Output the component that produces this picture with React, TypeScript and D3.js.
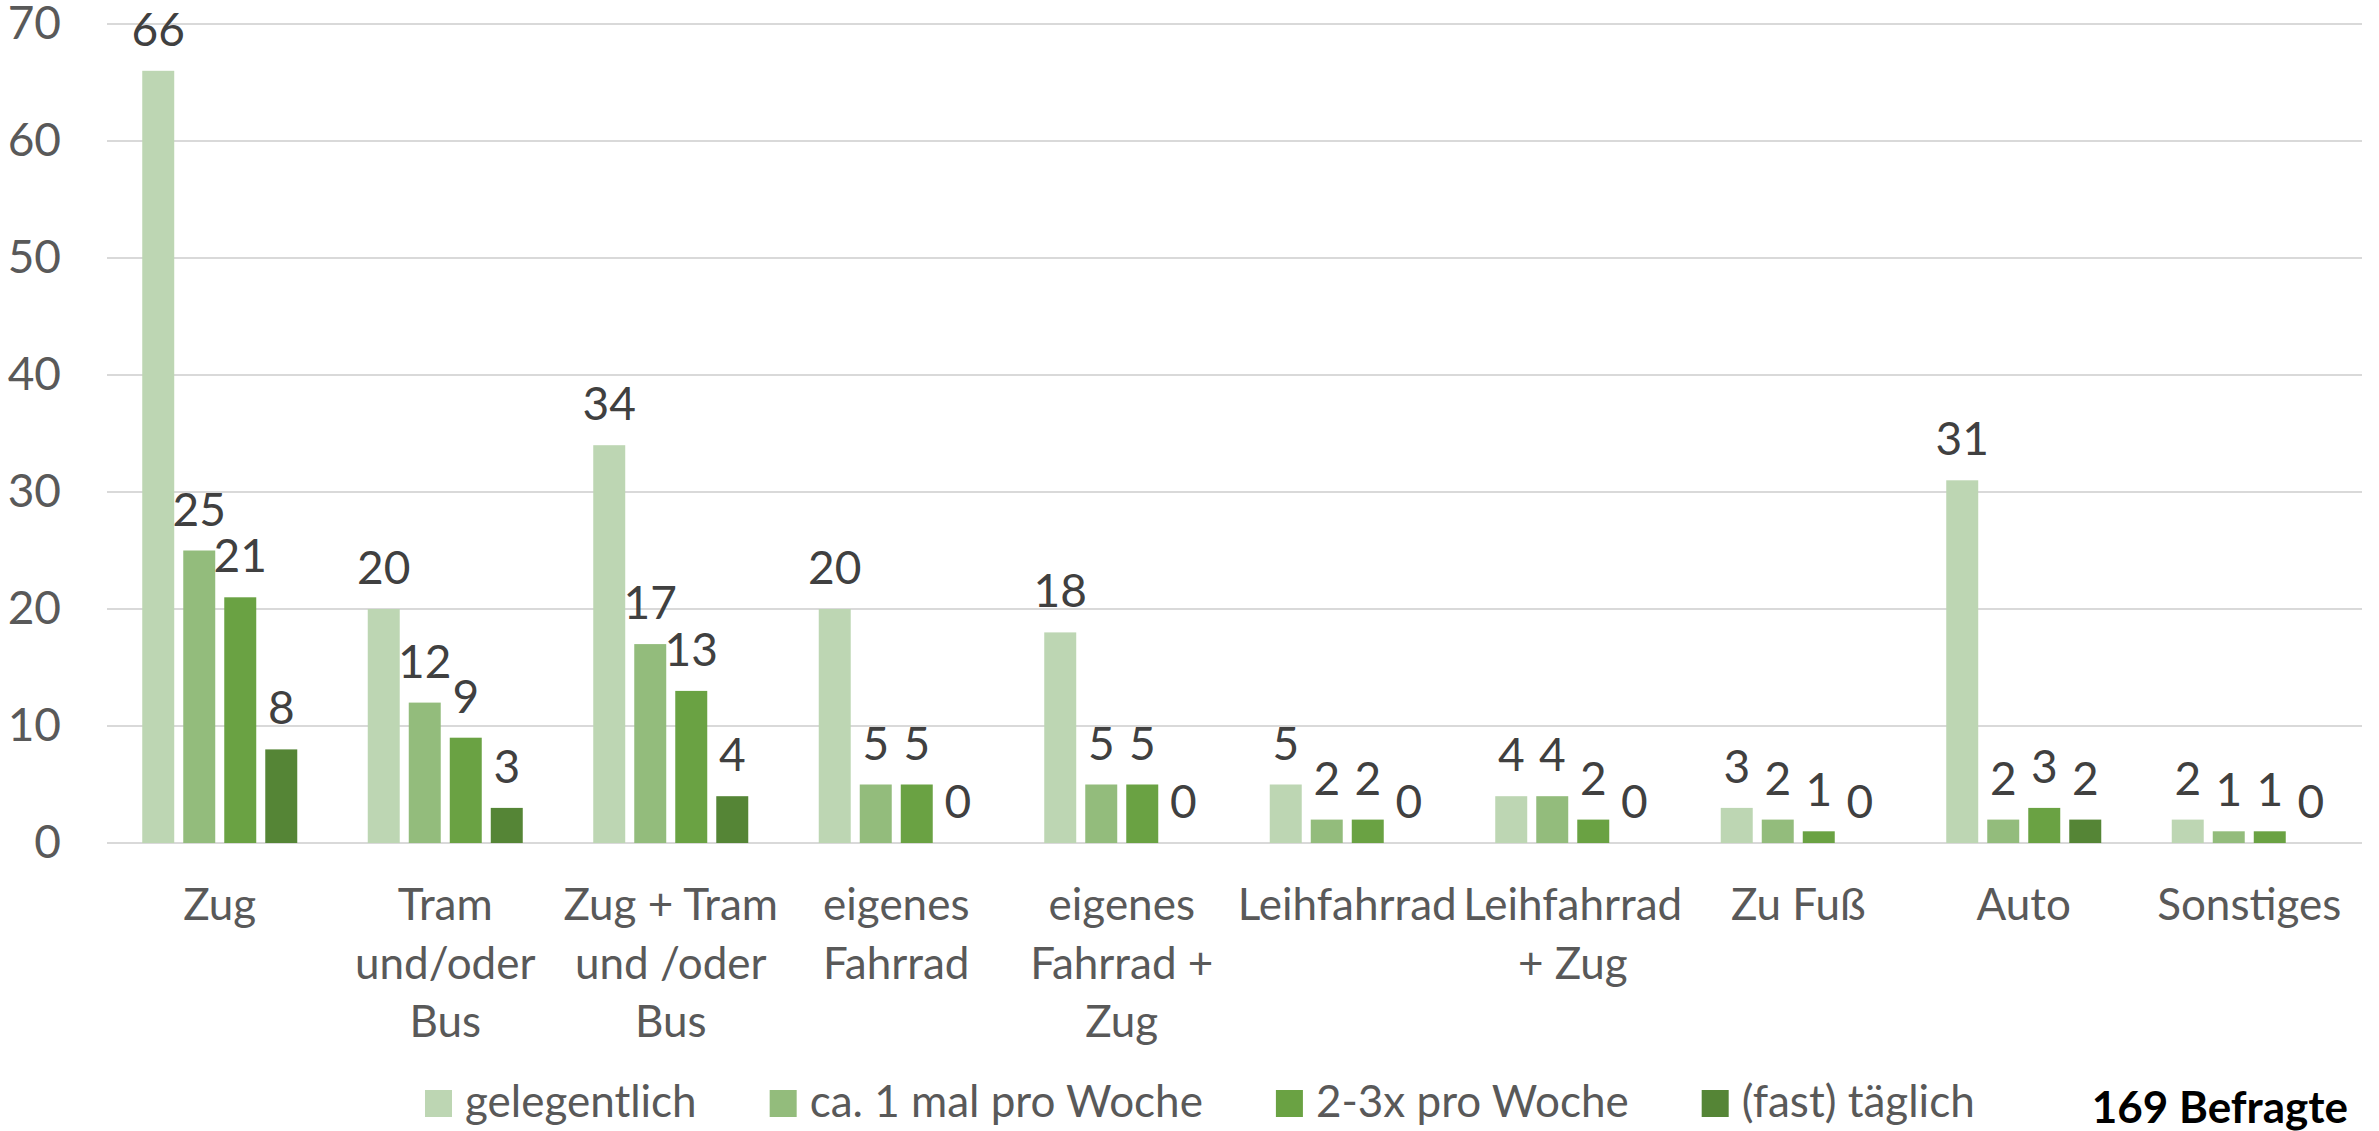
import React, { useEffect, useRef } from "react";
import * as d3 from "d3";

const categories: string[] = [
  "Zug",
  "Tram\nund/oder\nBus",
  "Zug + Tram\nund /oder\nBus",
  "eigenes\nFahrrad",
  "eigenes\nFahrrad +\nZug",
  "Leihfahrrad",
  "Leihfahrrad\n+ Zug",
  "Zu Fuß",
  "Auto",
  "Sonstiges",
];

const seriesNames: string[] = ["gelegentlich", "ca. 1 mal pro Woche", "2-3x pro Woche", "(fast) täglich"];

const gelegentlich: number[] = [66, 20, 34, 20, 18, 5, 4, 3, 31, 2];
const einmalProWoche: number[] = [25, 12, 17, 5, 5, 2, 4, 2, 2, 1];
const zweiDreiProWoche: number[] = [21, 9, 13, 5, 5, 2, 2, 1, 3, 1];
const fastTaeglich: number[] = [8, 3, 4, 0, 0, 0, 0, 0, 2, 0];

const yTicks: number[] = [0, 10, 20, 30, 40, 50, 60, 70];
const footnote = "169 Befragte";

const colors: string[] = ["#BDD6B3", "#93BC7C", "#6AA243", "#558536"];

const W = 2379;
const H = 1131;
const FONT = "Lato, 'Open Sans', sans-serif";
const FS = 44;

export default function App() {
  const ref = useRef<SVGSVGElement | null>(null);

  useEffect(() => {
    document.body.style.margin = "0";
    const svg = d3.select(ref.current);
    svg.selectAll("*").remove();

    const seriesValues = [gelegentlich, einmalProWoche, zweiDreiProWoche, fastTaeglich];
    const left = 107, right = 2362, top = 24, bottom = 843;

    const x0 = d3.scaleBand<string>().domain(categories).range([left, right]).paddingInner(0.3126).paddingOuter(0.1563);
    const x1 = d3.scaleBand<string>().domain(seriesNames).range([0, x0.bandwidth()]).paddingInner(0.22).paddingOuter(0);
    const y = d3.scaleLinear().domain([0, 70]).range([bottom, top]);

    // gridlines
    svg.append("g").selectAll("line").data(yTicks).join("line")
      .attr("x1", left).attr("x2", right)
      .attr("y1", d => y(d)).attr("y2", d => y(d))
      .attr("stroke", "#D9D9D9").attr("stroke-width", 2);

    // y tick labels
    svg.append("g").selectAll("text").data(yTicks).join("text")
      .attr("x", 61).attr("y", d => y(d) + 15)
      .attr("text-anchor", "end")
      .attr("font-family", FONT).attr("font-size", FS + 2).attr("fill", "#595959")
      .text(d => String(d));

    // bars
    const groups = svg.append("g").selectAll("g").data(categories).join("g")
      .attr("transform", c => `translate(${x0(c)},0)`);

    groups.each(function (c, ci) {
      const g = d3.select(this);
      const vals = seriesNames.map((s, si) => ({ s, si, v: seriesValues[si][ci] }));
      g.selectAll("rect").data(vals).join("rect")
        .attr("x", d => x1(d.s)!)
        .attr("width", x1.bandwidth())
        .attr("y", d => y(d.v))
        .attr("height", d => y(0) - y(d.v))
        .attr("fill", d => colors[d.si]);
      g.selectAll("text").data(vals).join("text")
        .attr("x", d => x1(d.s)! + x1.bandwidth() / 2)
        .attr("y", d => y(d.v) - 25)
        .attr("text-anchor", "middle")
        .attr("font-family", FONT).attr("font-size", FS + 2).attr("fill", "#404040")
        .text(d => String(d.v));
    });

    // x labels
    const xl = svg.append("g").selectAll("text").data(categories).join("text")
      .attr("text-anchor", "middle")
      .attr("font-family", FONT).attr("font-size", FS).attr("fill", "#595959")
      .attr("transform", c => `translate(${x0(c)! + x0.bandwidth() / 2},${bottom + 77})`);
    xl.each(function (c) {
      const t = d3.select(this);
      c.split("\n").forEach((line, i) => {
        t.append("tspan").attr("x", 0).attr("y", i * 58.5).text(line);
      });
    });

    // legend
    const leg = svg.append("g");
    let lx = 425;
    seriesNames.forEach((s, i) => {
      leg.append("rect").attr("x", lx).attr("y", 1090).attr("width", 27).attr("height", 27).attr("fill", colors[i]);
      const t = leg.append("text").attr("x", lx + 40).attr("y", 1117)
        .attr("font-family", FONT).attr("font-size", FS).attr("fill", "#595959").text(s);
      const w = (t.node() as SVGTextElement).getComputedTextLength();
      lx = lx + 40 + w + 73;
    });

    svg.append("text").attr("x", 2348).attr("y", 1123)
      .attr("text-anchor", "end")
      .attr("font-family", FONT).attr("font-size", FS).attr("font-weight", "bold").attr("fill", "#000000")
      .text(footnote);
  }, []);

  return (
    <svg ref={ref} width={W} height={H} style={{ position: "absolute", left: 0, top: 0, background: "#fff" }} />
  );
}
